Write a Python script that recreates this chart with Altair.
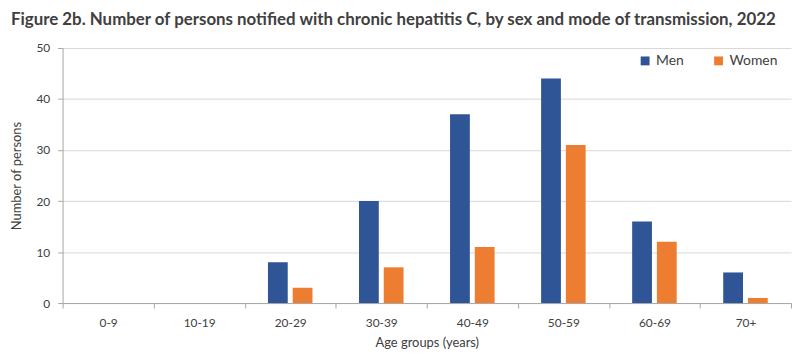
import altair as alt
import pandas as pd

ages = ["0-9", "10-19", "20-29", "30-39", "40-49", "50-59", "60-69", "70+"]
men = [0, 0, 8, 20, 37, 44, 16, 6]
women = [0, 0, 3, 7, 11, 31, 12, 1]
sexes = ["Men", "Women"]
colors = ["#2F5597", "#ED7D31"]

rows = []
for a, m, w in zip(ages, men, women):
    rows.append({"age": a, "sex": "Men", "n": m})
    rows.append({"age": a, "sex": "Women", "n": w})
df = pd.DataFrame(rows)

FONT = "Lato"

chart = alt.Chart(df).mark_bar().encode(
    x=alt.X("age:N", sort=ages, title="Age groups (years)",
            scale=alt.Scale(paddingInner=0, paddingOuter=0),
            axis=alt.Axis(labelAngle=0, tickBand="extent", domainColor="#A6A6A6",
                          tickColor="#A6A6A6", tickSize=5, labelPadding=10,
                          labelColor="#404040", labelFontSize=12, titleFontSize=13,
                          titleFontWeight="normal", titleColor="#404040", titlePadding=8,
                          grid=False, labelFont=FONT, titleFont=FONT)),
    xOffset=alt.XOffset("sex:N", sort=sexes,
                        scale=alt.Scale(paddingInner=0.2, paddingOuter=0.94)),
    y=alt.Y("n:Q", title="Number of persons",
            scale=alt.Scale(domain=[0, 50]),
            axis=alt.Axis(values=[0, 10, 20, 30, 40, 50], gridColor="#D9D9D9",
                          domainColor="#A6A6A6", tickColor="#A6A6A6", tickSize=5,
                          labelColor="#404040", labelFontSize=12, titleFontSize=13,
                          titleFontWeight="normal", titleColor="#404040", titlePadding=12,
                          labelPadding=8, labelFont=FONT, titleFont=FONT)),
    color=alt.Color("sex:N", sort=sexes,
                    scale=alt.Scale(domain=sexes, range=colors),
                    legend=alt.Legend(title=None, orient="none", direction="horizontal",
                                      legendX=580, legendY=6, symbolType="square",
                                      symbolSize=80, labelFontSize=14, labelColor="#404040",
                                      labelFont=FONT, columnPadding=28, symbolStrokeWidth=0)),
).properties(
    width=734, height=257,
    title=alt.TitleParams("Figure 2b. Number of persons notified with chronic hepatitis C, by sex and mode of transmission, 2022",
                          anchor="start", fontSize=17, font=FONT, fontWeight="bold",
                          color="#404040", offset=13, frame="group", dx=-52),
    padding={"left": 3, "top": 2, "right": 0, "bottom": 0},
).configure_view(stroke=None)

chart.save("out.html", embed_options={"renderer": "svg", "actions": False})
